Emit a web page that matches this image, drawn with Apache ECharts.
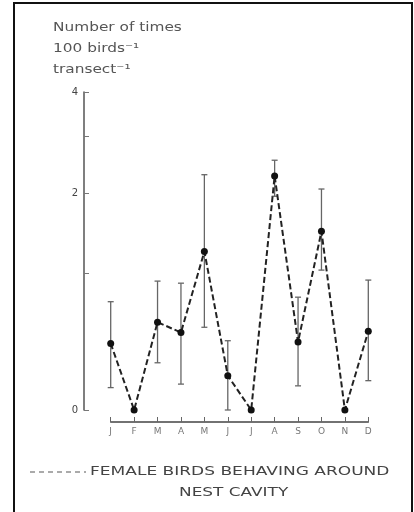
<!DOCTYPE html>
<html>
<head>
<meta charset="utf-8">
<script src="https://cdn.jsdelivr.net/npm/echarts@6/dist/echarts.min.js"></script>
<style>html,body{margin:0;padding:0;background:#fff}#c{width:414px;height:512px}</style>
</head>
<body>
<div id="c"></div>
<script>
// Data (original units; plotted on a log10(x+1) axis as in the source figure)
const months = ['J','F','M','A','M','J','J','A','S','O','N','D'];
const values = [0.40, 0, 0.56, 0.48, 1.23, 0.19, 0, 2.27, 0.41, 1.47, 0, 0.49];
const errLow  = [0.12, null, 0.27, 0.14, 0.52, 0, null, 1.95, 0.13, 1.03, null, 0.16];
const errHigh = [0.73, null, 0.92, 0.90, 2.29, 0.42, null, 2.54, 0.77, 2.06, null, 0.93];
const yTickLabels = [0, 2, 4];
const yTicks = [0, 1, 2, 3, 4];
const titleLines = ['Number of times', '100 birds\u207B\u00B9', 'transect\u207B\u00B9'];
const legendLines = ['FEMALE BIRDS BEHAVING AROUND', 'NEST CAVITY'];

const tf = v => Math.log10(v + 1);
const lineData = values.map(tf);
const errData = [];
errLow.forEach((lo, i) => { if (lo !== null) errData.push([i, tf(lo), tf(errHigh[i])]); });

const chart = echarts.init(document.getElementById('c'), null, {renderer: 'canvas'});
chart.setOption({
  backgroundColor: '#fff',
  animation: false,
  grid: {left: 110.7, right: 45.7, top: 92, bottom: 102},
  xAxis: {
    type: 'category', data: months, boundaryGap: false, offset: 12,
    axisLine: {onZero: false, lineStyle: {color: '#444', width: 1.5}},
    axisTick: {inside: true, length: 5, lineStyle: {color: '#666'}},
    axisLabel: {color: '#777', fontSize: 9, margin: 5, fontFamily: 'DejaVu Sans'},
    splitLine: {show: false}
  },
  yAxis: {
    type: 'value', min: 0, max: tf(4), offset: 26.7,
    axisLine: {show: true, lineStyle: {color: '#555', width: 1.5}},
    axisTick: {show: true, inside: true, length: 5, customValues: yTicks.map(tf), lineStyle: {color: '#777'}},
    axisLabel: {customValues: yTickLabels.map(tf), color: '#444', fontSize: 10, margin: 6, fontFamily: 'DejaVu Sans',
      formatter: v => String(Math.round(Math.pow(10, v) - 1))},
    splitLine: {show: false}
  },
  series: [
    {
      type: 'custom', data: errData, z: 1,
      renderItem: (params, api) => {
        const x = api.value(0);
        const lo = api.coord([x, api.value(1)]);
        const hi = api.coord([x, api.value(2)]);
        const s = {stroke: '#666', lineWidth: 1.3};
        return {type: 'group', children: [
          {type: 'line', shape: {x1: lo[0], y1: lo[1], x2: hi[0], y2: hi[1]}, style: s},
          {type: 'line', shape: {x1: hi[0] - 3, y1: hi[1], x2: hi[0] + 3, y2: hi[1]}, style: s},
          {type: 'line', shape: {x1: lo[0] - 3, y1: lo[1], x2: lo[0] + 3, y2: lo[1]}, style: s}
        ]};
      }
    },
    {
      type: 'line', data: lineData, z: 3,
      symbol: 'circle', symbolSize: 7,
      itemStyle: {color: '#111'},
      lineStyle: {color: '#222', width: 2, type: [6, 3]}
    }
  ],
  graphic: [
    {type: 'rect', shape: {x: 14, y: 3, width: 398, height: 530}, style: {fill: 'none', stroke: '#111', lineWidth: 2}, silent: true},
    {type: 'text', left: 53, top: 21, scaleX: 1.18, style: {text: titleLines[0], fill: '#555', font: '13px "DejaVu Sans"'}},
    {type: 'text', left: 53, top: 42, scaleX: 1.18, style: {text: titleLines[1], fill: '#555', font: '13px "DejaVu Sans"'}},
    {type: 'text', left: 53, top: 63, scaleX: 1.18, style: {text: titleLines[2], fill: '#555', font: '13px "DejaVu Sans"'}},
    {type: 'line', shape: {x1: 30, y1: 472, x2: 86, y2: 472}, style: {stroke: '#aaa', lineWidth: 2, lineDash: [5, 4]}},
    {type: 'text', left: 90, top: 465, scaleX: 1.31, style: {text: legendLines[0], fill: '#444', font: '13px "DejaVu Sans"'}},
    {type: 'text', left: 179, top: 486, scaleX: 1.3, style: {text: legendLines[1], fill: '#444', font: '13px "DejaVu Sans"'}}
  ]
});
</script>
</body>
</html>
